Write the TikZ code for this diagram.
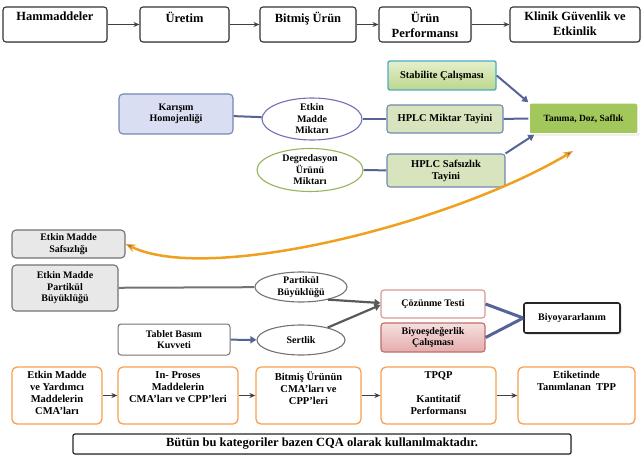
\documentclass[tikz,border=0pt]{standalone}
\usepackage{fontspec}
\setmainfont{Liberation Serif}
\usepackage{tikz}
\usetikzlibrary{arrows.meta,shapes.geometric,shadows}

\definecolor{lineblue}{RGB}{84,100,150}
\definecolor{boxblue}{RGB}{115,135,180}
\definecolor{palegreen}{RGB}{215,228,189}
\definecolor{stabtop}{RGB}{228,240,205}
\definecolor{stabbot}{RGB}{188,214,140}
\definecolor{cyanedge}{RGB}{75,172,198}
\definecolor{leafgreen}{RGB}{162,200,92}
\definecolor{lavender}{RGB}{218,222,242}
\definecolor{purpleline}{RGB}{112,112,182}
\definecolor{oliveline}{RGB}{150,180,90}
\definecolor{palegray}{RGB}{232,232,232}
\definecolor{midgray}{RGB}{115,115,115}
\definecolor{roseline}{RGB}{217,150,148}
\definecolor{rosered}{RGB}{192,110,105}
\definecolor{rosetop}{RGB}{246,224,224}
\definecolor{rosebot}{RGB}{228,172,172}
\definecolor{paleorange}{RGB}{247,160,80}
\definecolor{curveorange}{RGB}{240,160,30}

\newcommand{\bigf}{\fontsize{12.5}{15}\selectfont\bfseries}
\newcommand{\midf}{\fontsize{10.5}{12}\selectfont\bfseries}
\newcommand{\smf}{\fontsize{10}{11.5}\selectfont\bfseries}

\tikzset{
  wh/.style 2 args={minimum width=#1pt,minimum height=#2pt},
  topbox/.style={draw=black!80,line width=1.1pt,fill=white,rounded corners=3pt,inner sep=0pt,
    drop shadow={opacity=0.25,shadow xshift=1pt,shadow yshift=-1pt}},
  toptext/.style={label={[font=\bigf,align=center,anchor=north,yshift=-5pt,inner sep=0pt]north:{#1}}},
  catbox/.style={draw=paleorange,line width=1.3pt,fill=white,rounded corners=5pt,inner sep=0pt},
  cattext/.style={label={[font=\midf,align=center,anchor=north,yshift=-5pt,inner sep=0pt]north:{#1}}},
  stabbox/.style={draw=cyanedge,line width=1.4pt,top color=stabtop,bottom color=stabbot,rounded corners=2pt,font=\midf,align=center},
  hplcbox/.style={draw=boxblue,line width=1.1pt,fill=palegreen,rounded corners=3pt,font=\midf,align=center},
  tanbox/.style={draw=white,line width=1.5pt,fill=leafgreen,rounded corners=2pt,font=\fontsize{9.5}{11}\selectfont\bfseries,
    drop shadow={opacity=0.3,shadow xshift=1pt,shadow yshift=-1.5pt}},
  karbox/.style={draw=boxblue,line width=1.1pt,fill=lavender,rounded corners=4pt,font=\smf,align=center},
  ellip/.style={ellipse,draw=#1,line width=1.1pt,fill=white,inner xsep=0pt,inner ysep=-5pt,font=\smf,align=center},
  greybox/.style={draw=midgray,line width=1.1pt,fill=palegray,rounded corners=4pt,font=\smf,align=center},
  plainbox/.style={draw=midgray,line width=1pt,fill=white,rounded corners=3pt,font=\smf,align=center},
  cozbox/.style={draw=roseline,line width=1.1pt,fill=white,rounded corners=3pt,font=\smf,align=center},
  beqbox/.style={draw=rosered,line width=1.1pt,top color=rosetop,bottom color=rosebot,rounded corners=3pt,font=\smf,align=center},
  biobox/.style={draw=black!85,line width=1.6pt,fill=white,rounded corners=2pt,font=\smf,
    drop shadow={opacity=0.3,shadow xshift=1.5pt,shadow yshift=-1.5pt}},
  notebox/.style={draw=black!85,line width=1.2pt,fill=white,rounded corners=2pt,font=\bigf,
    drop shadow={opacity=0.25,shadow xshift=1pt,shadow yshift=-1pt}},
  link/.style={draw=lineblue,line width=2pt},
  linkarr/.style={link,-{Triangle[length=6pt,width=7pt]}},
  greyarr/.style={draw=black!65,line width=2.2pt,-{Triangle[length=6pt,width=7pt]}},
  flow/.style={draw=black!75,line width=0.9pt,-{Stealth[length=6pt,width=5pt]}},
  bigarc/.style={draw=curveorange,line width=2.5pt,
    {Stealth[fill=lineblue,length=10pt,width=8pt,line width=1pt]}-{Stealth[fill=lineblue,length=10pt,width=8pt,line width=1pt]}}
}

\begin{document}
\begin{tikzpicture}[x=1pt,y=-1pt,font=\bfseries]
\useasboundingbox (0,0) rectangle (644,462);

\node[topbox,wh={104}{35},toptext={Hammaddeler}] (ham) at (55,24.5) {};
\node[topbox,wh={89}{35},toptext={Üretim}] (uret) at (184.5,24.5) {};
\node[topbox,wh={96}{35},toptext={Bitmiş Ürün}] (bit) at (308,24.5) {};
\node[topbox,wh={92}{35},toptext={Ürün\\Performansı}] (perf) at (425,24.5) {};
\node[topbox,wh={130}{35},toptext={Klinik Güvenlik ve\\Etkinlik}] (klin) at (575,24.5) {};
\draw[flow] (ham) -- (uret); \draw[flow] (uret) -- (bit); \draw[flow] (bit) -- (perf); \draw[flow] (perf) -- (klin);

\node[stabbox,wh={108}{29}] (stab) at (442,75.5) {Stabilite Çalışması};
\node[karbox,wh={114}{40}] (kar) at (176,114) {Karışım\\Homojenliği};
\node[ellip=purpleline,wh={100}{42}] (emm) at (312,119) {Etkin\\Madde\\Miktarı};
\node[hplcbox,wh={116}{28}] (hplcm) at (445,119) {HPLC Miktar Tayini};
\node[tanbox,wh={109}{31}] (tan) at (583.5,118.5) {Tanıma, Doz, Saflık};
\node[ellip=oliveline,wh={106}{43}] (deg) at (310,170) {Degredasyon\\Ürünü\\Miktarı};
\node[hplcbox,wh={118}{33}] (hplcs) at (446,170.5) {HPLC Safsızlık\\Tayini};
\draw[link] (kar) -- (emm); \draw[link] (emm) -- (hplcm); \draw[link] (hplcm) -- (tan);
\draw[link] (deg) -- (hplcs);
\draw[linkarr] (stab.east) -- (tan.north west);
\draw[linkarr] (hplcs.north east) -- ([xshift=6pt]tan.south west);

\coordinate (tip) at (573,151);
\node[greybox,wh={113}{28}] (safs) at (68.5,244) {Etkin Madde\\Safsızlığı};
\draw[bigarc] (safs.east) .. controls (210,285) and (455,222) .. (tip);

\node[greybox,wh={106}{46}] (pem) at (65,288) {Etkin Madde\\Partikül\\Büyüklüğü};
\node[ellip=midgray,wh={92}{30}] (pb) at (301,287) {Partikül\\Büyüklüğü};
\node[plainbox,wh={112}{31}] (tbk) at (174,339.5) {Tablet Basım\\Kuvveti};
\node[ellip=midgray,wh={88}{30}] (sert) at (301,340) {Sertlik};
\node[cozbox,wh={104}{28}] (coz) at (433,304) {Çözünme Testi};
\node[beqbox,wh={104}{29}] (beq) at (433,337.5) {Biyoeşdeğerlik\\Çalışması};
\node[biobox,wh={96}{30}] (bio) at (572,318) {Biyoyararlanım};
\draw[link,draw=midgray] (pem) -- (pb);
\draw[linkarr] (tbk) -- (sert);
\draw[greyarr] (pb.-25) -- ([yshift=1pt]coz.west);
\draw[greyarr] (sert.25) -- ([yshift=-1pt]coz.west);
\draw[link,line width=3pt] (coz.east) -- (bio.west);
\draw[link,line width=3pt] (beq.east) -- (bio.west);

\node[catbox,wh={90}{57},cattext={Etkin Madde\\ve Yardımcı\\Maddelerin\\CMA'ları}] (cma) at (57,395.5) {};
\node[catbox,wh={120}{57},cattext={In- Proses\\Maddelerin\\CMA'ları ve CPP'leri}] (inp) at (178,395.5) {};
\node[catbox,wh={105}{57},cattext={Bitmiş Ürünün\\CMA'ları ve\\CPP'leri}] (fin) at (308.5,395.5) {};
\node[catbox,wh={115}{57},cattext={TPQP\\[12pt]Kantitatif\\Performansı}] (tpqp) at (438.5,395.5) {};
\node[catbox,wh={117}{57},cattext={Etiketinde\\Tanımlanan~ TPP}] (tpp) at (576.5,395.5) {};
\draw[flow,line width=1.2pt] (cma) -- (inp); \draw[flow,line width=1.2pt] (inp) -- (fin);
\draw[flow,line width=1.2pt] (fin) -- (tpqp); \draw[flow,line width=1.2pt] (tpqp) -- (tpp);
\node[notebox,wh={498}{20}] (note) at (322,444) {Bütün bu kategoriler bazen CQA olarak kullanılmaktadır.};

\end{tikzpicture}
\end{document}
